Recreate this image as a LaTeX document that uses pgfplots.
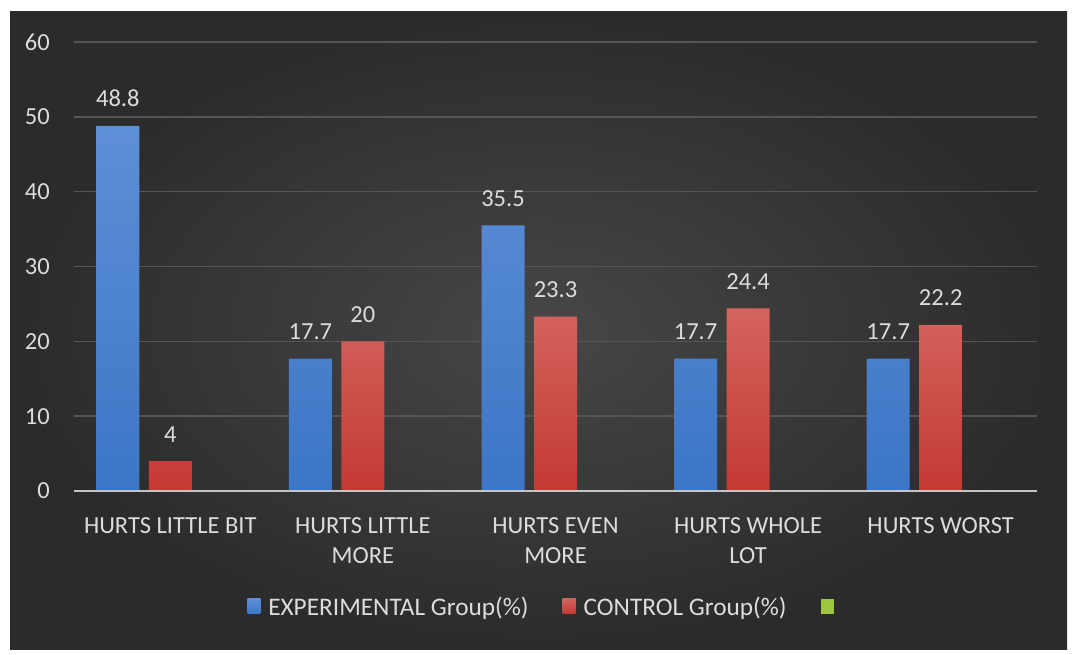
\documentclass[border=0pt]{standalone}
\usepackage{fontspec}
\setmainfont{Carlito}
\usepackage{pgfplots}
\pgfplotsset{compat=1.18}
\definecolor{bgin}{HTML}{474747}
\definecolor{bgout}{HTML}{2B2B2B}
\definecolor{gridc}{HTML}{555555}
\definecolor{labc}{HTML}{DCDCDC}
\definecolor{zeroc}{HTML}{C4C4C4}
\definecolor{bluetop}{HTML}{5E8FD8}
\definecolor{bluebot}{HTML}{3C76C6}
\definecolor{redtop}{HTML}{D4645D}
\definecolor{redbot}{HTML}{C43934}
\definecolor{greenk}{HTML}{9CC63F}
\newcommand{\bigfont}{\fontsize{24.5}{30}\selectfont}
\newcommand{\legfont}{\fontsize{25.3}{30}\selectfont}
\begin{document}
\bigfont
\begin{tikzpicture}
\fill[white] (0pt,0pt) rectangle (1074pt,655pt);
\shade[inner color=bgin, outer color=bgout] (10pt,5pt) rectangle (1067pt,643pt);
\begin{axis}[
  at={(74pt,164pt)}, anchor=south west,
  scale only axis, width=963pt, height=449pt,
  xmin=-0.5, xmax=4.5, ymin=0, ymax=60,
  ytick={0,10,20,30,40,50,60},
  xtick={0,1,2,3,4},
  xticklabels={HURTS LITTLE BIT, {HURTS LITTLE\\MORE}, {HURTS EVEN\\MORE}, {HURTS WHOLE\\LOT}, HURTS WORST},
  /pgf/number format/assume math mode=true,
  tick label style={color=labc, font=\bigfont},
  xticklabel style={align=center, anchor=north, inner sep=0pt, yshift=-26pt},
  yticklabel style={anchor=east, inner sep=0pt, xshift=-24pt},
  major tick length=0pt,
  axis line style={draw=none},
  ymajorgrids, grid style={color=gridc, line width=1.5pt},
  bar width=43pt,
  clip=false,
  nodes near coords,
  nodes near coords style={font=\bigfont, color=labc, anchor=base, inner sep=0pt, yshift=19pt},
  legend columns=3,
  legend style={at={(0.1797,-0.260)}, anchor=west, draw=none, fill=none, inner sep=0pt,
    font=\legfont, text=labc, nodes={inner xsep=4pt, inner ysep=0pt},
    /tikz/every odd column/.append style={column sep=4pt},
    /tikz/every even column/.append style={column sep=30pt}},
  legend image code/.code={\fill[#1] (0pt,-6pt) rectangle (13pt,9pt);},
]
\addplot[ybar, bar shift=-52.5pt, draw=none, top color=bluetop, bottom color=bluebot,
  every node near coord/.append style={xshift=-52.5pt}]
  coordinates {(0,48.8) (1,17.7) (2,35.5) (3,17.7) (4,17.7)};
\addlegendentry{EXPERIMENTAL Group(\%)}
\addplot[ybar, bar shift=0pt, draw=none, top color=redtop, bottom color=redbot]
  coordinates {(0,4) (1,20) (2,23.3) (3,24.4) (4,22.2)};
\addlegendentry{CONTROL Group(\%)}
\addlegendimage{draw=none, fill=greenk}
\addlegendentry{}
\draw[zeroc, line width=2.5pt] (axis cs:-0.5,0) -- (axis cs:4.5,0);
\end{axis}
\end{tikzpicture}
\end{document}
